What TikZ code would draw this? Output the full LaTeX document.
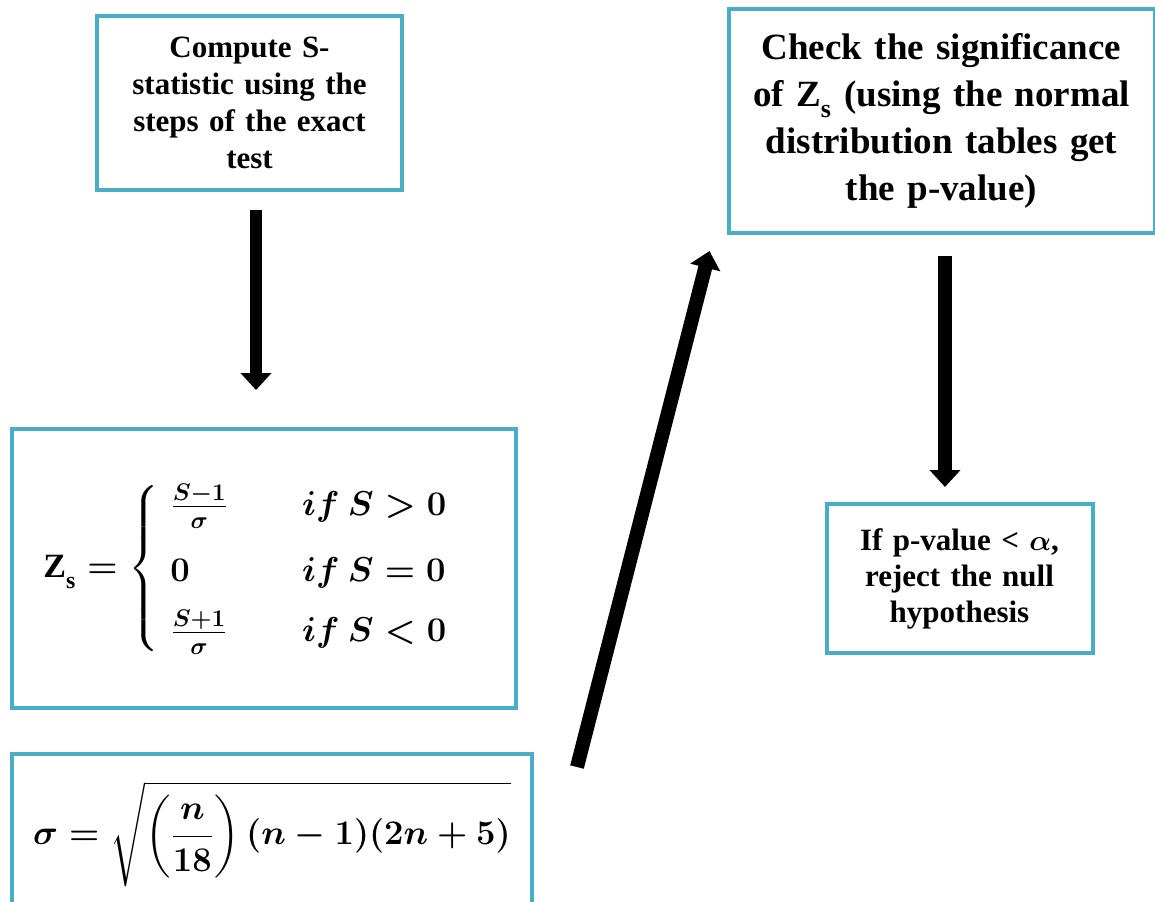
\documentclass[tikz,border=0pt]{standalone}
\usepackage{amsmath}
\usepackage{bm}
\usepackage{fontspec}
\setmainfont{Liberation Serif}
\usetikzlibrary{arrows.meta}
\definecolor{boxblue}{HTML}{4BACC6}
\tikzset{
	box/.style={draw=boxblue, line width=2pt, align=center, inner sep=4pt},
	bigarrow/.style={line width=#1, -{Triangle[length=8.5pt,width=15pt]}},
	bigarrow/.default=7pt
}
\newcommand{\lowsub}[1]{_{\raisebox{-3pt}{$\scriptstyle\text{#1}$}}}
\begin{document}
\begin{tikzpicture}[x=0.5pt, y=-0.5pt]
	\clip (0,0) rectangle (1155,901);
	\node[box, minimum width=152.5pt, minimum height=87pt, text width=140pt,
		font=\bfseries\fontsize{15.5}{18.5}\selectfont] (stat) at (249.5,103)
		{Compute S-\\statistic using the\\steps of the exact\\test};
	\node[box, minimum width=252pt, minimum height=139.5pt,
		font=\boldmath\fontsize{17}{20}\selectfont] (zs) at (264,568.5)
		{$\textbf{Z}\lowsub{\bfseries s} = \begin{cases}
			\;\frac{S-1}{\sigma} & \hspace{20pt} if\ S>0\\[9pt]
			\;0 & \hspace{20pt} if\ S=0\\[6pt]
			\;\frac{S+1}{\sigma} & \hspace{20pt} if\ S<0
		\end{cases}$\hspace{18pt}};
	\node[box, anchor=north, minimum width=260pt, minimum height=80pt,
		font=\boldmath\fontsize{17.5}{21}\selectfont] (sig) at (272,752)
		{$\sigma = \sqrt{\left(\dfrac{n}{18}\right)(n-1)(2n+5)}$};
	\node[box, minimum width=211.5pt, minimum height=112pt, text width=205pt,
		font=\bfseries\fontsize{18.5}{23.5}\selectfont] (chk) at (941.5,121)
		{Check the significance\\of Z$\lowsub{s}$ (using the normal\\distribution tables get\\the p-value)};
	\node[box, minimum width=132.5pt, minimum height=74.5pt, text width=125pt,
		font=\bfseries\fontsize{15.5}{18}\selectfont] (rej) at (959.5,578.5)
		{If p-value < $\bm{\alpha}$,\\reject the null\\hypothesis};
	\draw[bigarrow=6pt, shorten <=9pt, shorten >=18.5pt]
		([xshift=3.25pt]stat.south) -- ([xshift=3.25pt]stat.south |- zs.north);
	\draw[bigarrow] ([shift={(21.5pt,-7.5pt)}]sig.north east)
		-- ([shift={(-8.5pt,-8pt)}]chk.south west);
	\draw[bigarrow, shorten <=10.5pt, shorten >=7.5pt]
		([xshift=1.75pt]chk.south) -- ([xshift=1.75pt]chk.south |- rej.north);
\end{tikzpicture}
\end{document}
